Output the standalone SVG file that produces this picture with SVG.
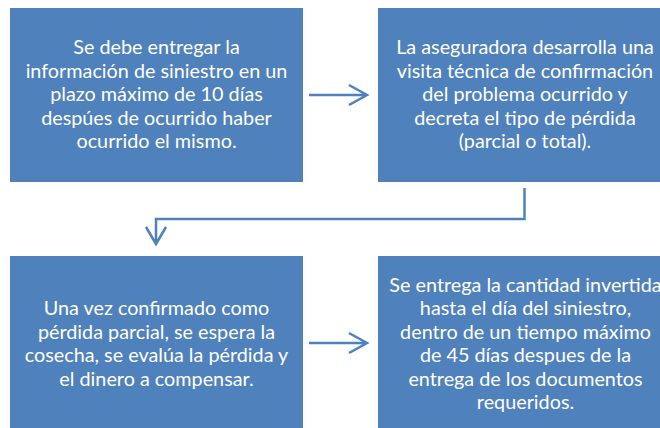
<svg xmlns="http://www.w3.org/2000/svg" width="660" height="428" viewBox="0 0 660 428">
<style>
.box{fill:#4F81BD;}
.t{font-family:Lato,"Open Sans","Liberation Sans",sans-serif;font-size:19.8px;fill:#FFFFFF;text-anchor:middle;}
.c{fill:none;stroke:#4F81BD;stroke-width:2.5;}
</style>
<rect width="660" height="428" fill="#FFFFFF"/>
<g id="node1">
<rect class="box" x="10" y="8" width="293" height="174"/>
<text class="t" x="156.5" y="54">Se debe entregar la</text>
<text class="t" x="156.5" y="77.5">información de siniestro en un</text>
<text class="t" x="156.5" y="101">plazo máximo de 10 días</text>
<text class="t" x="156.5" y="124.5">despúes de ocurrido haber</text>
<text class="t" x="156.5" y="148">ocurrido el mismo.</text>
</g>
<g id="node2">
<rect class="box" x="378" y="8" width="293" height="174"/>
<text class="t" x="525" y="54">La aseguradora desarrolla una</text>
<text class="t" x="525" y="77.5">visita técnica de confirmación</text>
<text class="t" x="525" y="101">del problema ocurrido y</text>
<text class="t" x="525" y="124.5">decreta el tipo de pérdida</text>
<text class="t" x="525" y="148">(parcial o total).</text>
</g>
<g id="node3">
<rect class="box" x="10" y="256" width="293" height="174"/>
<text class="t" x="156.5" y="315">Una vez confirmado como</text>
<text class="t" x="156.5" y="338.5">pérdida parcial, se espera la</text>
<text class="t" x="156.5" y="362">cosecha, se evalúa la pérdida y</text>
<text class="t" x="156.5" y="385.5">el dinero a compensar.</text>
</g>
<g id="node4">
<rect class="box" x="378" y="256" width="293" height="174"/>
<text class="t" x="525.5" y="291.5">Se entrega la cantidad invertida</text>
<text class="t" x="525.5" y="315">hasta el día del siniestro,</text>
<text class="t" x="525.5" y="338.5">dentro de un tiempo máximo</text>
<text class="t" x="525.5" y="362">de 45 días despues de la</text>
<text class="t" x="525.5" y="385.5">entrega de los documentos</text>
<text class="t" x="525.5" y="409">requeridos.</text>
</g>
<g id="connectors">
<path class="c" d="M309,95 H367 M349,85 L367,95 L349,105"/>
<path class="c" d="M524.5,188 V219 H156 V244 M146,227 L156,244 L166,227"/>
<path class="c" d="M309,343 H367 M349,333 L367,343 L349,353"/>
</g>
</svg>
